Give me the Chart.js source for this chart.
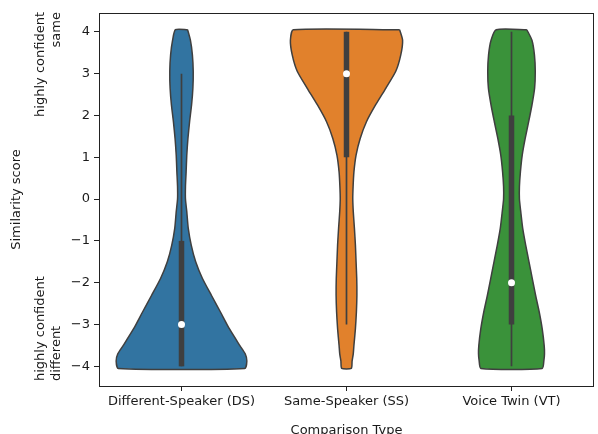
<!DOCTYPE html>
<html>
<head>
<meta charset="utf-8">
<script src="https://cdn.jsdelivr.net/npm/chart.js@4.4.0/dist/chart.umd.min.js"></script>
<style>
  html, body { margin: 0; padding: 0; background: #fff; }
  canvas { display: block; }
</style>
</head>
<body>
<canvas id="c" width="598" height="434"></canvas>
<script>
const categories = ['Different-Speaker (DS)', 'Same-Speaker (SS)', 'Voice Twin (VT)']
const yTicks = [-4, -3, -2, -1, 0, 1, 2, 3, 4]

// violin outline: half width (in category units) at each score level
const densityY = [4.05, 3.8, 3.45, 3.05, 2.65, 2.25, 1.85, 1.45, 1.05, 0.65, 0.3, 0, -0.3, -0.7, -1.1, -1.5, -1.9, -2.3, -2.7, -3.1, -3.5, -3.7, -3.87, -4.05]
const dsWidth = [0.037, 0.054, 0.066, 0.071, 0.069, 0.061, 0.049, 0.039, 0.032, 0.028, 0.024, 0.024, 0.032, 0.041, 0.059, 0.086, 0.127, 0.181, 0.236, 0.290, 0.353, 0.386, 0.396, 0.383]
const ssWidth = [0.322, 0.340, 0.329, 0.298, 0.238, 0.176, 0.121, 0.083, 0.058, 0.045, 0.040, 0.038, 0.041, 0.048, 0.054, 0.058, 0.062, 0.063, 0.060, 0.054, 0.045, 0.041, 0.034, 0.029]
const vtWidth = [0.093, 0.124, 0.139, 0.144, 0.140, 0.124, 0.104, 0.083, 0.065, 0.054, 0.048, 0.048, 0.056, 0.068, 0.086, 0.106, 0.126, 0.146, 0.168, 0.186, 0.198, 0.200, 0.196, 0.186]

// inner box stats
const medians = [-3, 3, -2]
const q1 = [-4, 1, -3]
const q3 = [-1, 4, 2]
const whiskerLo = [-4, -3, -4]
const whiskerHi = [3, 4, 4]

const fills = ['#3274a1', '#e1812c', '#3a923a']
const edge = '#3f3f3f'
const FONT = 'DejaVu Sans'

function violinPoints(i, widths){
  const right = densityY.map((y, k) => ({x: i + widths[k], y}))
  const left = densityY.map((y, k) => ({x: i - widths[k], y})).reverse()
  return [...right, ...left, right[0]]
}

const datasets = []
categories.forEach((c, i) => {
  datasets.push({type:'scatter', data:[{x:i, y:medians[i]}], pointRadius:3.5, pointBackgroundColor:'#fff', pointBorderWidth:0, order:0})
  datasets.push({type:'line', data:[{x:i, y:q1[i]}, {x:i, y:q3[i]}], borderColor:edge, borderWidth:5.5, pointRadius:0, order:1})
  datasets.push({type:'line', data:[{x:i, y:whiskerLo[i]}, {x:i, y:whiskerHi[i]}], borderColor:edge, borderWidth:1.7, pointRadius:0, order:2})
})
const widthSets = [dsWidth, ssWidth, vtWidth]
categories.forEach((c, i) => {
  datasets.push({type:'line', data:violinPoints(i, widthSets[i]), borderColor:edge, borderWidth:1.5,
    backgroundColor:fills[i], fill:'shape', pointRadius:0, tension:0.2, borderJoinStyle:'round', order:3})
})

const textPlugin = {
  id:'texts',
  afterDraw(chart){
    const {ctx, chartArea:a} = chart
    ctx.save()
    ctx.strokeStyle = '#222'
    ctx.lineWidth = 1
    ctx.strokeRect(a.left + 0.5, a.top + 0.5, a.right - a.left - 1, a.bottom - a.top)
    ctx.fillStyle = '#1a1a1a'
    ctx.font = `13px "${FONT}"`
    ctx.textBaseline = 'middle'
    const rot = (x, y, align, s) => {
      ctx.save(); ctx.translate(x, y); ctx.rotate(-Math.PI/2)
      ctx.textAlign = align; ctx.fillText(s, 0, 0); ctx.restore()
    }
    rot(17, (a.top + a.bottom)/2, 'center', 'Similarity score')
    rot(41, 12, 'right', 'highly confident')
    rot(57, 12, 'right', 'same')
    rot(41, 381, 'left', 'highly confident')
    rot(57, 381, 'left', 'different')
    ctx.textAlign = 'center'
    ctx.fillText('Comparison Type', (a.left + a.right)/2, 431)
    ctx.restore()
  }
}

new Chart(document.getElementById('c'), {
  data: { datasets },
  options: {
    responsive:false, animation:false, devicePixelRatio:1,
    layout:{ padding:{ left:0, top:13, right:0, bottom:0 } },
    plugins:{ legend:{display:false}, tooltip:{enabled:false} },
    scales:{
      x:{ type:'linear', min:-0.5, max:2.5,
        afterBuildTicks: s => { s.ticks = categories.map((c, i) => ({value:i})) },
        afterFit: s => { s.height = 48 },
        ticks:{ callback: v => categories[v], color:'#1a1a1a', font:{family:FONT, size:13}, padding:3, maxRotation:0, autoSkip:false },
        grid:{ drawOnChartArea:false, tickLength:5, color:'#222', tickWidth:1 },
        border:{ display:false } },
      y:{ type:'linear', min:-4.47, max:4.45,
        afterBuildTicks: s => { s.ticks = yTicks.map(v => ({value:v})) },
        afterFit: s => { s.width = 99 },
        ticks:{ callback: v => (v < 0 ? '\u2212' + (-v) : String(v)), color:'#1a1a1a', font:{family:FONT, size:13}, padding:4 },
        grid:{ drawOnChartArea:false, tickLength:5, color:'#222', tickWidth:1 },
        border:{ display:false } }
    }
  },
  plugins:[textPlugin]
})
</script>
</body>
</html>
